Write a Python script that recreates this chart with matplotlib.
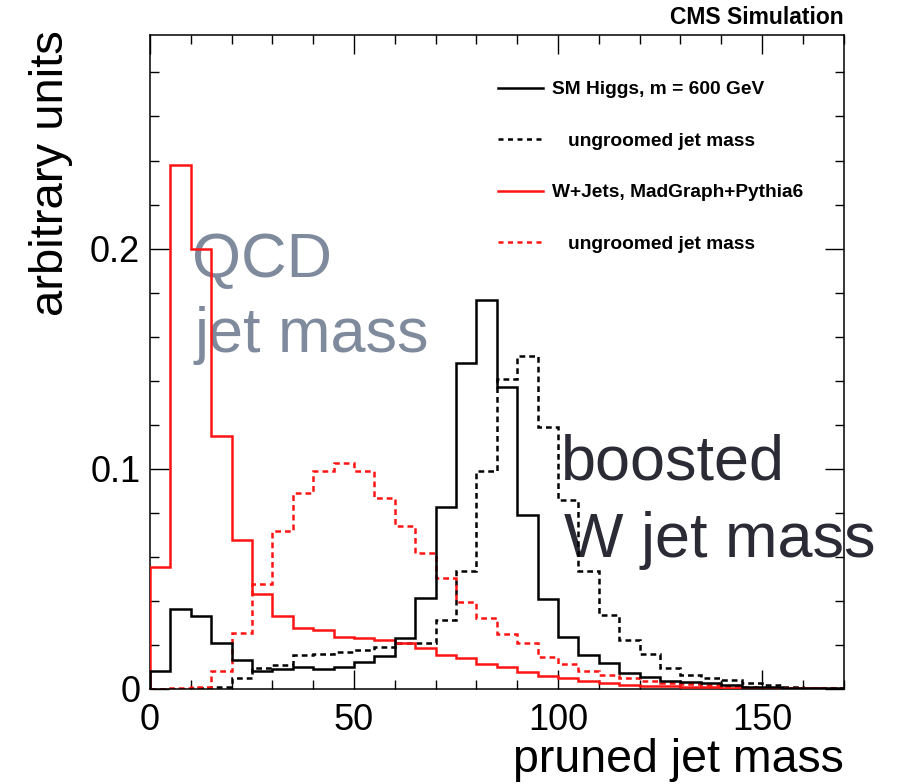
import numpy as np
import matplotlib
matplotlib.use("Agg")
import matplotlib.pyplot as plt
from matplotlib.lines import Line2D
from matplotlib.ticker import FixedLocator, MultipleLocator

# ---------------- data (5 GeV bins, 0-170) ----------------
bin_edges = np.arange(0, 175, 5)

higgs_pruned = [0.008, 0.0365, 0.033, 0.021, 0.013, 0.008, 0.009, 0.0099, 0.009, 0.0102,
                0.0123, 0.015, 0.023, 0.0414, 0.0827, 0.148, 0.1767, 0.137, 0.0789, 0.041,
                0.0234, 0.0155, 0.0118, 0.0074, 0.0055, 0.0036, 0.0032, 0.0029, 0.0017, 0.0011,
                0.0008, 0.0006, 0.0005, 0.0003]
higgs_ungroomed = [0.0002, 0.0002, 0.0003, 0.001, 0.005, 0.0094, 0.011, 0.0155, 0.016, 0.0167,
                   0.0179, 0.019, 0.021, 0.021, 0.0314, 0.0537, 0.099, 0.141, 0.151, 0.119,
                   0.086, 0.0537, 0.0336, 0.0223, 0.016, 0.0094, 0.0064, 0.0052, 0.0039, 0.0029,
                   0.0017, 0.0011, 0.0006, 0.0003]
wjets_pruned = [0.0556, 0.238, 0.200, 0.115, 0.0676, 0.0433, 0.033, 0.0277, 0.0266, 0.0237,
                0.023, 0.0223, 0.021, 0.0186, 0.0155, 0.0139, 0.0115, 0.0099, 0.0075, 0.0059,
                0.0051, 0.0035, 0.0025, 0.002, 0.0015, 0.0012, 0.001, 0.0008, 0.0006, 0.0005,
                0.0004, 0.0003, 0.0003, 0.0002]
wjets_ungroomed = [0.0002, 0.0003, 0.001, 0.0083, 0.0253, 0.0478, 0.0717, 0.089, 0.099, 0.1026,
                   0.099, 0.0867, 0.074, 0.0617, 0.0502, 0.0397, 0.0322, 0.025, 0.021, 0.0147,
                   0.0115, 0.0083, 0.0063, 0.0049, 0.0038, 0.0028, 0.0021, 0.0017, 0.0012, 0.0008,
                   0.0006, 0.0005, 0.0004, 0.0003]

legend_labels = ["SM Higgs, m = 600 GeV", "   ungroomed jet mass",
                 "W+Jets, MadGraph+Pythia6", "   ungroomed jet mass"]
x_ticks = [0, 50, 100, 150]
x_tick_labels = ["0", "50", "100", "150"]
y_ticks = [0, 0.1, 0.2]
y_tick_labels = ["0", "0.1", "0.2"]

# ---------------- figure ----------------
plt.rcParams["font.family"] = ["Liberation Sans", "DejaVu Sans"]
W, H = 897, 784
fig = plt.figure(figsize=(W / 100, H / 100), dpi=100)
ax = fig.add_axes([150 / W, 1 - 689 / H, 693.5 / W, 654 / H])

lw = 1.8
dash = (0, (2.3, 1.6))
red = "#ff1414"
ax.stairs(higgs_ungroomed, bin_edges, color="black", lw=lw, ls=dash, zorder=2)
ax.stairs(wjets_ungroomed, bin_edges, color=red, lw=lw, ls=dash, zorder=2)
ax.stairs(wjets_pruned, bin_edges, color=red, lw=lw, zorder=3)
ax.stairs(higgs_pruned, bin_edges, color="black", lw=lw, zorder=3)

ax.set_xlim(0, 170)
ax.set_ylim(0, 0.297)

ax.xaxis.set_major_locator(FixedLocator(x_ticks))
ax.set_xticklabels(x_tick_labels)
ax.xaxis.set_minor_locator(MultipleLocator(10))
ax.yaxis.set_major_locator(FixedLocator(y_ticks))
ax.set_yticklabels(y_tick_labels)
ax.yaxis.set_minor_locator(MultipleLocator(0.02))

ax.tick_params(which="both", direction="in", top=True, right=True, width=1.0)
ax.tick_params(which="major", length=13.7)
ax.tick_params(which="minor", length=6.8)
ax.tick_params(axis="x", labelsize=26, pad=10)
ax.tick_params(axis="y", labelsize=26, pad=7)
for s in ax.spines.values():
    s.set_linewidth(1.1)

# legend
handles = [Line2D([], [], color="black", lw=lw),
           Line2D([], [], color="black", lw=lw, ls=(0, (2.0, 1.8))),
           Line2D([], [], color=red, lw=lw),
           Line2D([], [], color=red, lw=lw, ls=(0, (2.0, 1.8)))]
ax.legend(handles, legend_labels, loc="upper left",
          bbox_to_anchor=(498 / W, 1 - 81 / H), bbox_transform=fig.transFigure,
          frameon=False, prop={"weight": "bold", "size": 13.8},
          handlelength=2.35, handletextpad=0.45, labelspacing=1.78,
          borderpad=0, borderaxespad=0)

# titles / labels
fig.text(843.5 / W, 1 - 17.5 / H, "CMS Simulation", ha="right", va="center",
         fontsize=16.5, fontweight="bold")
fig.text(51 / W, 1 - 30 / H, "arbitrary units", rotation=90, ha="center", va="top",
         fontsize=34)
fig.text(843.5 / W, 1 - 772 / H, "pruned jet mass", ha="right", va="baseline",
         fontsize=33.5)

# annotations (below the histogram lines)
big = 45.4
qcd_col = "#7f8a9d"
w_col = "#2b2b36"
for txt, xp, yp, col in [("QCD", 192, 277, qcd_col), ("jet mass", 194, 352, qcd_col),
                         ("boosted", 561, 480, w_col), ("W jet mass", 564, 557, w_col)]:
    ax.text(xp / W, 1 - yp / H, txt, transform=fig.transFigure, ha="left",
            va="baseline", fontsize=big, color=col, zorder=1, clip_on=False)

fig.savefig("out.png", dpi=100)
